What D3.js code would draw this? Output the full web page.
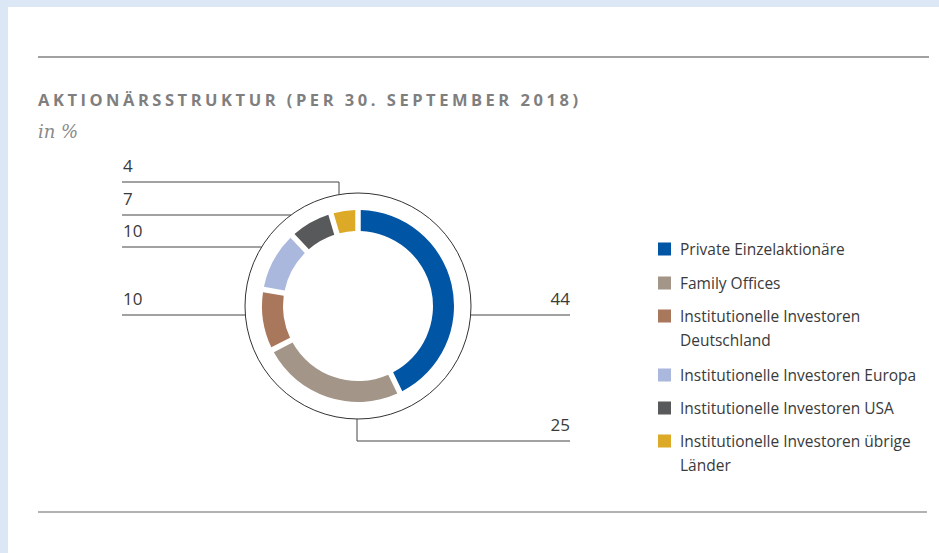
<!DOCTYPE html>
<html>
<head>
<meta charset="utf-8">
<script src="https://cdn.jsdelivr.net/npm/d3@7"></script>
<style>
  html, body { margin: 0; padding: 0; background: #dbe7f4; }
  svg { display: block; }
</style>
</head>
<body>
<svg id="chart"></svg>
<script>
// shareholder structure, values in %
const categories = [
  "Private Einzelaktionäre",
  "Family Offices",
  "Institutionelle Investoren Deutschland",
  "Institutionelle Investoren Europa",
  "Institutionelle Investoren USA",
  "Institutionelle Investoren übrige Länder"
];
const values = [44, 25, 10, 10, 7, 4];
const colors = ["#0055a5", "#a39689", "#a9775b", "#abb8de", "#58595b", "#dcaa27"];
// legend text split into lines like in the print version
const legendLines = [
  ["Private Einzelaktionäre"],
  ["Family Offices"],
  ["Institutionelle Investoren", "Deutschland"],
  ["Institutionelle Investoren Europa"],
  ["Institutionelle Investoren USA"],
  ["Institutionelle Investoren übrige", "Länder"]
];

function drawDonut(svgSelector, width, height) {
  const svg = d3.select(svgSelector)
    .attr("width", width)
    .attr("height", height);

  // white card on light blue page
  svg.append("rect")
    .attr("x", 8).attr("y", 7)
    .attr("width", width - 8).attr("height", height - 7)
    .style("fill", "#fff");

  // rules top / bottom
  svg.append("line")
    .attr("x1", 38).attr("x2", 929).attr("y1", 57).attr("y2", 57)
    .style("stroke", "#444").style("stroke-width", 1.2);
  svg.append("line")
    .attr("x1", 38).attr("x2", 927).attr("y1", 512).attr("y2", 512)
    .style("stroke", "#666").style("stroke-width", 1.2);

  // title
  svg.append("text")
    .attr("x", 38).attr("y", 106)
    .attr("textLength", 540)
    .attr("lengthAdjust", "spacing")
    .style("font-family", "'Open Sans', sans-serif")
    .style("font-weight", "bold")
    .style("font-size", "16.5px")
    .style("fill", "#7f7f7f")
    .text("AKTIONÄRSSTRUKTUR (PER 30. SEPTEMBER 2018)");

  svg.append("text")
    .attr("x", 38).attr("y", 138)
    .style("font-family", "'DejaVu Serif', serif")
    .style("font-style", "italic")
    .style("font-size", "18px")
    .style("fill", "#8a8a8a")
    .text("in %");

  // donut
  const cx = 358, cy = 306;
  const R = 113;            // outer thin circle
  const rOuter = 96, rInner = 75;

  const g = svg.append("g").attr("transform", `translate(${cx},${cy})`);

  g.append("circle")
    .attr("r", R)
    .style("fill", "none")
    .style("stroke", "#333")
    .style("stroke-width", 1);

  const pie = d3.pie()
    .sort(null)
    .value(d => d)
    .padAngle(0.045);

  const arc = d3.arc()
    .innerRadius(rInner)
    .outerRadius(rOuter);

  g.selectAll(".slice")
    .data(pie(values))
    .enter().append("path")
    .attr("class", "slice")
    .attr("d", arc)
    .style("fill", (d, i) => colors[i]);

  // leader lines from the thin circle out to the value labels
  const leftX = 122 - cx, rightX = 570 - cx;
  const labelFont = "'Open Sans', sans-serif";
  const lab = g.append("g")
    .style("fill", "none")
    .style("stroke", "#444")
    .style("stroke-width", 1);

  function leftLeader(i, dy) {
    const x = -Math.sqrt(R * R - dy * dy);
    lab.append("path").attr("d", `M${leftX},${dy}H${x}`);
    addLabel(values[i], leftX + 1, dy - 10, "start");
  }
  function leftElbow(i, dy, dx) {
    const yc = -Math.sqrt(R * R - dx * dx);
    lab.append("path").attr("d", `M${leftX},${dy}H${dx}V${yc}`);
    addLabel(values[i], leftX + 1, dy - 10, "start");
  }
  function rightLeader(i, dy) {
    const x = Math.sqrt(R * R - dy * dy);
    lab.append("path").attr("d", `M${x},${dy}H${rightX}`);
    addLabel(values[i], rightX, dy - 10, "end");
  }
  function bottomElbow(i, dy, dx) {
    const yc = Math.sqrt(R * R - dx * dx);
    lab.append("path").attr("d", `M${dx},${yc}V${dy}H${rightX}`);
    addLabel(values[i], rightX, dy - 10, "end");
  }
  function addLabel(v, x, y, anchor) {
    g.append("text")
      .attr("x", x).attr("y", y)
      .attr("text-anchor", anchor)
      .style("font-family", labelFont)
      .style("font-size", "17px")
      .style("fill", "#3a3a3a")
      .text(v);
  }

  rightLeader(0, 9);
  bottomElbow(1, 135, -1);
  leftLeader(2, 9);
  leftLeader(3, -59);
  leftLeader(4, -91);
  leftElbow(5, -124, -19);

  // legend
  const legend = svg.append("g").attr("transform", "translate(658,0)");
  const rowY = [249, 283, 316, 375, 408, 441];
  legendLines.forEach((lines, i) => {
    const row = legend.append("g").attr("transform", `translate(0,${rowY[i]})`);
    row.append("rect")
      .attr("x", 0).attr("y", -6.5)
      .attr("width", 13).attr("height", 13)
      .style("fill", colors[i]);
    lines.forEach((t, j) => {
      row.append("text")
        .attr("x", 22).attr("y", j * 24 + 5.5)
        .style("font-family", labelFont)
        .style("font-size", "15.5px")
        .style("fill", "#3a3a3a")
        .text(t);
    });
  });
}

drawDonut("#chart", 939, 553);
</script>
</body>
</html>
